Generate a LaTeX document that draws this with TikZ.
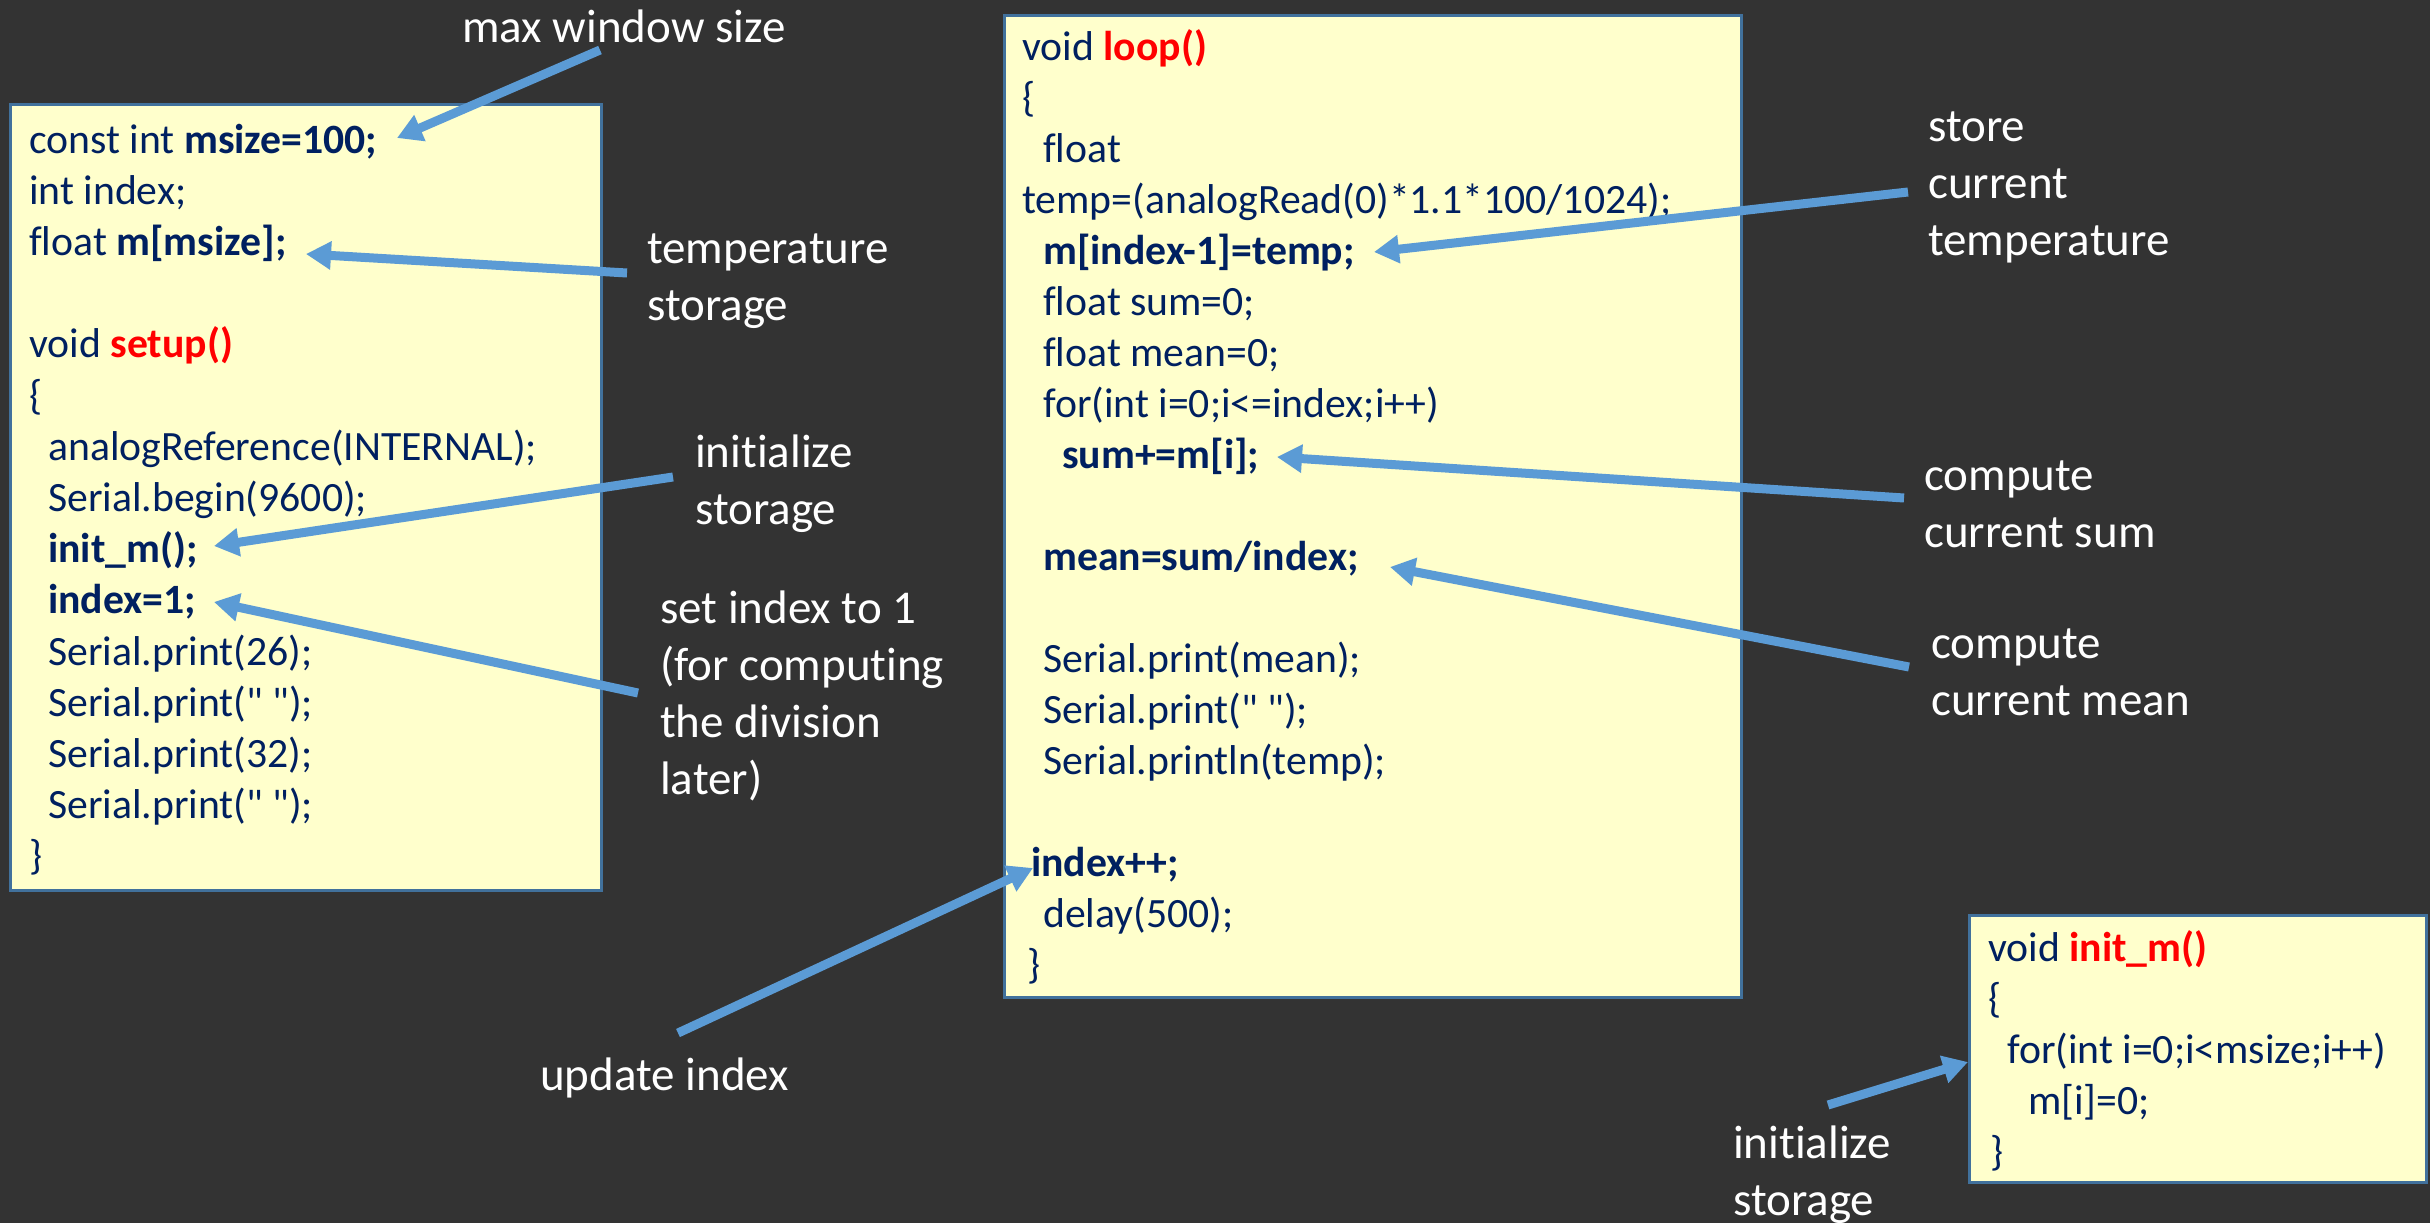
\documentclass[tikz,border=0pt]{standalone}
\usepackage{fontspec}
\setmainfont{Carlito}
\newfontfamily\calfont{Carlito}[Ligatures=CommonOff]
\usetikzlibrary{arrows.meta}
\definecolor{bg}{HTML}{333333}
\definecolor{boxfill}{HTML}{FFFFCC}
\definecolor{boxline}{HTML}{41719C}
\definecolor{codecol}{HTML}{002060}
\definecolor{fred}{HTML}{FF0000}
\definecolor{arrcol}{HTML}{5B9BD5}
\tikzset{
  codebox/.style={draw=boxline, line width=3pt, fill=boxfill, anchor=north west, inner sep=0pt},
  code/.style={anchor=base west, inner sep=0pt, text=codecol, font=\calfont\fontsize{41.7}{51}\selectfont},
  ann/.style={anchor=base west, inner sep=0pt, text=white, font=\calfont\fontsize{47}{57}\selectfont},
  arr/.style={draw=arrcol, line width=9pt, -{Triangle[length=25pt,width=27pt]}},
}
\newcommand\codeln[4]{\node[code] (#1) at (#2,#3) {#4};}
\newcommand\annln[4]{\node[ann] (#1) at (#2,#3) {#4};}
\begin{document}
\begin{tikzpicture}[x=1pt,y=-1pt]
\useasboundingbox (0,0) rectangle (2430,1223);
\fill[bg] (0,0) rectangle (2430,1223);

% boxes
\node[codebox, minimum width=591pt, minimum height=786pt] (setupbox) at (9,103) {};
\node[codebox, minimum width=737pt, minimum height=982pt] (loopbox) at (1003,14) {};
\node[codebox, minimum width=457pt, minimum height=267pt] (initbox) at (1968,914) {};

% setup box code
\codeln{s0}{29}{153}{const int \textbf{msize=100;}}
\codeln{s1}{29}{204.2}{int index;}
\codeln{s2}{29}{255.4}{float \textbf{m[msize];}}
\codeln{s4}{29}{357.8}{void \textcolor{fred}{\textbf{setup()}}}
\codeln{s5}{29}{409}{\{}
\codeln{s6}{48}{460.2}{analogReference(INTERNAL);}
\codeln{s7}{48}{511.4}{Serial.begin(9600);}
\codeln{s8}{48}{562.6}{\textbf{init\_m();}}
\codeln{s9}{48}{613.8}{\textbf{index=1;}}
\codeln{s10}{48}{665}{Serial.print(26);}
\codeln{s11}{48}{716.2}{Serial.print(" ");}
\codeln{s12}{48}{767.4}{Serial.print(32);}
\codeln{s13}{48}{818.6}{Serial.print(" ");}
\codeln{s14}{29}{869.8}{\}}

% loop box code
\codeln{l0}{1022}{60}{void \textcolor{fred}{\textbf{loop()}}}
\codeln{l1}{1022}{111}{\{}
\codeln{l2}{1043}{162}{float}
\codeln{l3}{1022}{213}{temp=(analogRead(0)*1.1*100/1024);}
\codeln{l4}{1043}{264}{\textbf{m[index-1]=temp;}}
\codeln{l5}{1043}{315}{float sum=0;}
\codeln{l6}{1043}{366}{float mean=0;}
\codeln{l7}{1043}{417}{for(int i=0;i<=index;i++)}
\codeln{l8}{1062}{468}{\textbf{sum+=m[i];}}
\codeln{l10}{1043}{570.5}{\textbf{mean=sum/index;}}
\codeln{l12}{1043}{672.6}{Serial.print(mean);}
\codeln{l13}{1043}{723.7}{Serial.print(" ");}
\codeln{l14}{1043}{774.7}{Serial.println(temp);}
\codeln{l16}{1031}{876.8}{\textbf{index++;}}
\codeln{l17}{1043}{927.9}{delay(500);}
\codeln{l18}{1027}{978.9}{\}}

% init_m box code
\codeln{i0}{1988}{961}{void \textcolor{fred}{\textbf{init\_m()}}}
\codeln{i1}{1988}{1012}{\{}
\codeln{i2}{2007}{1063}{for(int i=0;i<msize;i++)}
\codeln{i3}{2028}{1114}{m[i]=0;}
\codeln{i4}{1990}{1165}{\}}

% annotations
\annln{a1}{462}{43}{max window size}
\annln{a2a}{647}{263}{temperature}
\annln{a2b}{647}{320}{storage}
\annln{a3a}{695}{467}{initialize}
\annln{a3b}{695}{524}{storage}
\annln{a4a}{660}{623}{set index to 1}
\annln{a4b}{660}{680}{(for computing}
\annln{a4c}{660}{737}{the division}
\annln{a4d}{660}{794}{later)}
\annln{a5a}{1928}{141}{store}
\annln{a5b}{1928}{198}{current}
\annln{a5c}{1928}{255}{temperature}
\annln{a6a}{1924}{490}{compute}
\annln{a6b}{1924}{547}{current sum}
\annln{a7a}{1931}{658}{compute}
\annln{a7b}{1931}{715}{current mean}
\annln{a8}{540}{1090}{update index}
\annln{a9a}{1733}{1158}{initialize}
\annln{a9b}{1733}{1215}{storage}

% arrow end points
\coordinate (mwsS) at (600,50);   \coordinate (mwsT) at (397,138);
\coordinate (tmpS) at (627,273);  \coordinate (tmpT) at (306,254);
\coordinate (inlS) at (673,477);  \coordinate (inlT) at (214,546);
\coordinate (sixS) at (638,693);  \coordinate (sixT) at (214,602);
\coordinate (stoS) at (1908,192); \coordinate (stoT) at (1374,252);
\coordinate (sumS) at (1904,498); \coordinate (sumT) at (1277,457);
\coordinate (menS) at (1909,667); \coordinate (menT) at (1390,567);
\coordinate (updS) at (678,1033); \coordinate (updT) at (1033,868);
\coordinate (inbS) at (1828,1105);\coordinate (inbT) at (1968,1062);

\draw[arr] (mwsS) -- (mwsT);
\draw[arr] (tmpS) -- (tmpT);
\draw[arr] (inlS) -- (inlT);
\draw[arr] (sixS) -- (sixT);
\draw[arr] (stoS) -- (stoT);
\draw[arr] (sumS) -- (sumT);
\draw[arr] (menS) -- (menT);
\draw[arr] (updS) -- (updT);
\draw[arr] (inbS) -- (inbT);
\end{tikzpicture}
\end{document}
